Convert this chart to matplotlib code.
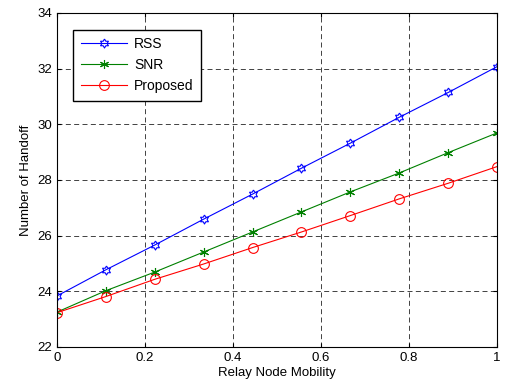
import numpy as np
import matplotlib
matplotlib.use("Agg")
import matplotlib.pyplot as plt

plt.rcParams['font.family'] = ['Liberation Sans', 'DejaVu Sans']

mobility = np.linspace(0, 1, 10)
rss = [23.83, 24.77, 25.66, 26.59, 27.49, 28.42, 29.32, 30.25, 31.14, 32.07]
snr = [23.25, 24.02, 24.69, 25.41, 26.13, 26.85, 27.57, 28.25, 28.98, 29.69]
proposed = [23.23, 23.81, 24.43, 24.98, 25.57, 26.13, 26.72, 27.32, 27.88, 28.48]

# six-pointed star outline (MATLAB 'hexagram')
ang_out = np.deg2rad(90 + 60 * np.arange(6))
ang_in = ang_out + np.deg2rad(30)
hexagram = []
for a, b in zip(ang_out, ang_in):
    hexagram.append((np.cos(a), np.sin(a)))
    hexagram.append((0.577 * np.cos(b), 0.577 * np.sin(b)))
hexagram.append(hexagram[0])

fig = plt.figure(figsize=(5.12, 3.89), dpi=100)
ax = fig.add_axes([0.111, 0.108, 0.860, 0.859])

ax.plot(mobility, rss, color='blue', lw=0.8, marker=hexagram, ms=6.5,
        mfc='none', mec='blue', mew=0.8, label='RSS')
ax.plot(mobility, snr, color='#008000', lw=0.8, marker=(6, 2, 0), ms=6.5,
        mec='#008000', mew=0.8, label='SNR')
ax.plot(mobility, proposed, color='red', lw=0.8, marker='o', ms=7,
        mfc='none', mec='red', mew=0.8, label='Proposed')

ax.set_xlim(0, 1)
ax.set_ylim(22, 34)
ax.set_xticks(np.arange(0, 1.01, 0.2))
ax.set_xticklabels(['0', '0.2', '0.4', '0.6', '0.8', '1'])
ax.set_yticks(np.arange(22, 34.1, 2))
ax.grid(True, color='#222222', linestyle=(0, (6, 4)), linewidth=0.6)
ax.tick_params(direction='in', labelsize=9.5, top=True, right=True, length=3)
for s in ax.spines.values():
    s.set_linewidth(0.8)

ax.set_xlabel('Relay Node Mobility', fontsize=9.5, labelpad=2)
ax.set_ylabel('Number of Handoff', fontsize=9.5, labelpad=4)

leg = ax.legend(loc='upper left', fontsize=10, fancybox=False, framealpha=1,
                edgecolor='black', borderaxespad=1.2, handlelength=3.3,
                handletextpad=0.5, labelspacing=0.5, borderpad=0.55)
leg.get_frame().set_linewidth(1.0)

fig.savefig('out.png', dpi=100)
